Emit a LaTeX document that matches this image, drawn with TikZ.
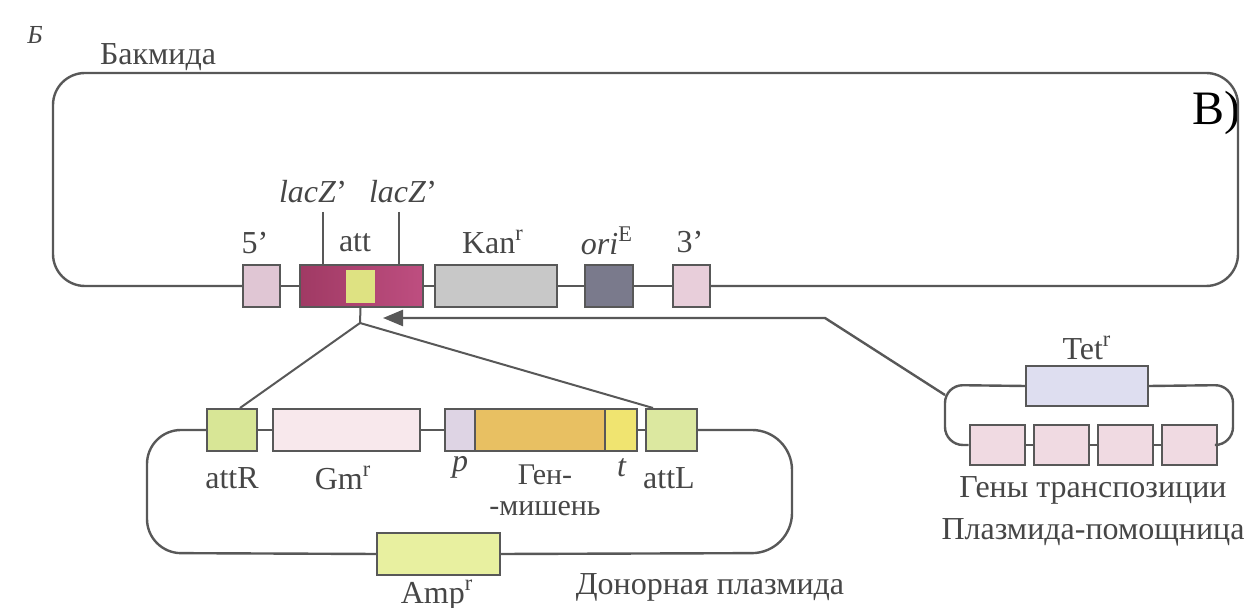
\documentclass[tikz,border=0pt]{standalone}
\usepackage{fontspec}
\setmainfont{Liberation Serif}
\usetikzlibrary{arrows.meta}
\definecolor{linegray}{RGB}{88,88,88}
\definecolor{txtgray}{RGB}{70,70,70}
\definecolor{fivecol}{RGB}{224,198,212}
\definecolor{laczA}{RGB}{160,58,100}
\definecolor{laczB}{RGB}{190,78,128}
\definecolor{attcol}{RGB}{222,226,130}
\definecolor{kancol}{RGB}{200,200,200}
\definecolor{oricol}{RGB}{122,122,140}
\definecolor{threecol}{RGB}{232,206,218}
\definecolor{attRcol}{RGB}{216,230,150}
\definecolor{gmcol}{RGB}{248,232,236}
\definecolor{pcol}{RGB}{222,212,228}
\definecolor{genecol}{RGB}{232,192,98}
\definecolor{tcol}{RGB}{240,228,112}
\definecolor{attLcol}{RGB}{220,232,160}
\definecolor{ampcol}{RGB}{232,240,160}
\definecolor{tetcol}{RGB}{222,222,240}
\definecolor{tpcol}{RGB}{240,218,226}

\begin{document}
\begin{tikzpicture}[x=0.5pt,y=-0.5pt,
    dna/.style={draw=linegray,line width=1.2pt},
    gene/.style={draw=linegray,line width=1pt,inner sep=0pt,minimum height=21pt},
    lbl/.style={text=txtgray,inner sep=0pt,font=\fontsize{16}{18}\selectfont}]
  \useasboundingbox (0,0) rectangle (1254,608);
  % Panel letters
  \node[lbl,font=\fontsize{13}{15}\selectfont\itshape] (panel) at (35,35) {Б};
  \node[font=\fontsize{24}{26}\selectfont,inner sep=0pt] (pB) at (1216,113) {B)};
  \node[lbl] (bacname) at (158,57) {Бакмида};
  % Bacmid genes
  \node[gene,fill=fivecol,minimum width=18.5pt] (b5) at (261.5,286) {};
  \node[gene,left color=laczA,right color=laczB,minimum width=61.5pt] (lacz) at (361.5,286) {};
  \node[fill=attcol,inner sep=0pt,minimum width=14.5pt,minimum height=16.5pt] (att) at (360.5,286.5) {};
  \node[gene,fill=kancol,minimum width=61pt] (kan) at (496,286) {};
  \node[gene,fill=oricol,minimum width=24pt] (ori) at (609,286) {};
  \node[gene,fill=threecol,minimum width=18.5pt] (b3) at (691.5,286) {};
  \draw[dna,rounded corners=16pt] (b5.west) -- (53,286) -- (53,73) -- (1238,73) -- (1238,286) -- (b3.east);
  \draw[dna] (b5) -- (lacz);
  \draw[dna] (lacz) -- (kan);
  \draw[dna] (kan) -- (ori);
  \draw[dna] (ori) -- (b3);
  % Bacmid labels
  \node[lbl] (l5) at (255,243) {5'};
  \node[lbl] (latt) at (355,243) {att};
  \node[lbl] (lkan) at (493,242) {Kan\textsuperscript{r}};
  \node[lbl] (lori) at (607,241) {\textit{ori}\textsuperscript{E}};
  \node[lbl] (l3) at (690,242) {3'};
  \node[lbl] (lz1) at (313,192) {\textit{lacZ}'};
  \node[lbl] (lz2) at (403,192) {\textit{lacZ}'};
  \coordinate (tk1) at (323,212);
  \coordinate (tk2) at (399,212);
  \draw[dna,line width=1pt] (tk1) -- (tk1 |- lacz.north);
  \draw[dna,line width=1pt] (tk2) -- (tk2 |- lacz.north);
  % Donor plasmid
  \node[gene,fill=attRcol,minimum width=25pt] (attR) at (232,430) {};
  \node[gene,fill=gmcol,minimum width=73.5pt] (gm) at (346.5,430) {};
  \node[gene,fill=pcol,minimum width=15pt] (prom) at (460,430) {};
  \node[gene,fill=genecol,minimum width=65pt] (target) at (540,430) {};
  \node[gene,fill=tcol,minimum width=16pt] (term) at (621,430) {};
  \node[gene,fill=attLcol,minimum width=25.5pt] (attL) at (671.5,430) {};
  \node[gene,fill=ampcol,minimum width=61.5pt] (amp) at (438.5,554) {};
  \draw[dna,rounded corners=17pt] (attR.west) -- (147,430) -- (147,553) -- (amp.west);
  \draw[dna,rounded corners=20pt] (amp.east) -- (792,553) -- (792,430) -- (attL.east);
  \draw[dna] (attR) -- (gm);
  \draw[dna] (gm) -- (prom);
  \draw[dna] (term) -- (attL);
  \node[lbl] (lattR) at (232,478) {attR};
  \node[lbl] (lgm) at (343,478) {Gm\textsuperscript{r}};
  \node[lbl] (lp) at (460,467) {\textit{p}};
  \node[lbl,font=\fontsize{15}{17}\selectfont] (ltarget) at (545,475) {Ген-};
  \node[lbl,font=\fontsize{15}{17}\selectfont] (ltarget2) at (545,509) {-мишень};
  \node[lbl] (lt) at (622,468) {\textit{t}};
  \node[lbl] (lattL) at (669,478) {attL};
  \node[lbl] (lamp) at (437,595) {Amp\textsuperscript{r}};
  \node[lbl] (donor) at (710,587) {Донорная плазмида};
  % Transposition into att
  \coordinate (jn) at (360,323);
  \draw[dna,line width=1pt] (att |- lacz.south) -- (jn);
  \draw[dna,line width=1pt] (jn) -- (attR.70);
  \draw[dna,line width=1pt] (jn) -- ([xshift=4pt]attL.north west);
  % Helper plasmid
  \node[gene,fill=tetcol,minimum width=61pt,minimum height=20pt] (tet) at (1087,386) {};
  \foreach \i/\x in {1/997,2/1061,3/1125,4/1189}{
    \node[gene,fill=tpcol,minimum width=27.5pt,minimum height=20pt] (tp\i) at (\x,445) {};
  }
  \foreach \i/\j in {1/2,2/3,3/4}{
    \draw[dna] (tp\i) -- (tp\j);
  }
  \draw[dna,rounded corners=9pt] (tet.west) -- (945,385) -- (945,445) -- (tp1.west);
  \draw[dna,rounded corners=9pt] (tet.east) -- (1233,385) -- (1233,445) -- (tp4.east);
  \node[lbl] (ltet) at (1087,348) {Tet\textsuperscript{r}};
  \node[lbl] (ltp) at (1093,490) {Гены транспозиции};
  \node[lbl] (helper) at (1093,532) {Плазмида-помощница};
  % Arrow from helper
  \coordinate (hpin) at (945,395);
  \coordinate (bend) at (825,318);
  \coordinate (tip) at (383,318);
  \draw[dna,-{Triangle[length=10pt,width=8pt]}] (hpin) -- (bend) -- (tip);
\end{tikzpicture}
\end{document}
